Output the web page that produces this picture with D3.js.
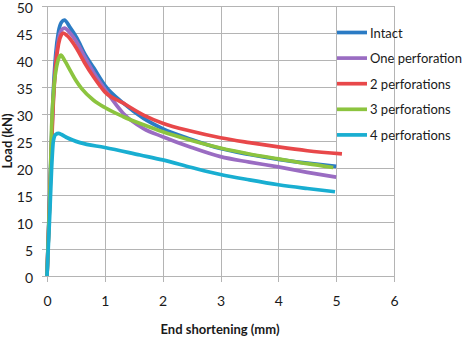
<!DOCTYPE html>
<html>
<head>
<meta charset="utf-8">
<script src="https://cdn.jsdelivr.net/npm/d3@7"></script>
<style>
  html, body { margin: 0; padding: 0; background: #fff; }
  svg { display: block; }
  text { font-family: Lato, "Open Sans", sans-serif; fill: #1a1a1a; }
</style>
</head>
<body>
<svg id="chart" width="464" height="338"></svg>
<script>
// ---- data ----
const seriesNames = ["Intact", "One perforation", "2 perforations", "3 perforations", "4 perforations"];
const seriesColors = ["#2b7bc4", "#9a6cc2", "#e8484a", "#8cc43f", "#19aed1"];

const intact = [[0,0],[0.05,16],[0.1,32],[0.15,41],[0.2,45.3],[0.25,47],[0.3,47.4],[0.4,46],[0.52,44],[0.65,41.2],[0.81,38.5],[1.0,35.3],[1.32,32],[1.67,29.2],[2,27.3],[2.5,25.3],[3,23.6],[3.5,22.5],[4,21.6],[4.5,20.9],[5,20.3]];
const onePerf = [[0,0],[0.05,15.5],[0.1,31],[0.15,39.5],[0.2,43.8],[0.25,45.5],[0.3,45.9],[0.4,45],[0.52,43.2],[0.65,40.6],[0.81,37.6],[1.0,34.6],[1.32,30.1],[1.67,27.3],[2,25.8],[2.5,23.8],[3,22.1],[3.5,21.1],[4,20.2],[4.5,19.2],[5,18.3]];
const twoPerf = [[0,0],[0.05,15],[0.1,30],[0.15,39],[0.2,43],[0.25,44.7],[0.28,45],[0.35,44.5],[0.52,42],[0.65,39.5],[0.81,36.8],[1.0,34.1],[1.32,32],[1.67,29.8],[2,28.3],[2.5,26.8],[3,25.6],[3.5,24.7],[4,23.9],[4.5,23.2],[5.1,22.6]];
const threePerf = [[0,0],[0.05,15],[0.08,27.6],[0.12,35],[0.17,39],[0.21,40.5],[0.24,40.9],[0.3,40],[0.41,37.9],[0.5,36.2],[0.6,34.7],[0.8,32.6],[1.0,31.2],[1.32,29.5],[1.67,28],[2,26.7],[2.5,25.1],[3,23.7],[3.5,22.6],[4,21.7],[4.5,20.8],[4.95,20.1]];
const fourPerf = [[0,0],[0.05,12],[0.08,20],[0.11,25],[0.15,26.2],[0.2,26.4],[0.25,26.2],[0.35,25.6],[0.57,24.7],[1.0,23.8],[1.61,22.4],[2,21.5],[2.5,20.1],[3,18.8],[3.5,17.8],[4,16.9],[4.5,16.2],[4.98,15.6]];
const seriesData = [intact, onePerf, twoPerf, threePerf, fourPerf];

const xTicks = [0, 1, 2, 3, 4, 5, 6];
const yTicks = [0, 5, 10, 15, 20, 25, 30, 35, 40, 45, 50];
const xTitle = "End shortening (mm)";
const yTitle = "Load (kN)";

// ---- layout ----
const svg = d3.select("#chart");
const mLeft = 47, mRight = 394, mTop = 6, mBottom = 276;
const x = d3.scaleLinear().domain([0, 6]).range([mLeft, mRight]);
const y = d3.scaleLinear().domain([0, 50]).range([mBottom, mTop]);
const gridColor = "#b4b4b4";

// gridlines
const g = svg.append("g");
g.selectAll("line.h").data(yTicks).join("line").attr("class", "h")
  .attr("x1", mLeft - 5).attr("x2", mRight)
  .attr("y1", d => Math.round(y(d)) + 0.5).attr("y2", d => Math.round(y(d)) + 0.5)
  .attr("stroke", gridColor).attr("stroke-width", 1);
g.selectAll("line.v").data(xTicks).join("line").attr("class", "v")
  .attr("x1", d => Math.round(x(d)) + 0.5).attr("x2", d => Math.round(x(d)) + 0.5)
  .attr("y1", mTop).attr("y2", mBottom + 6)
  .attr("stroke", gridColor).attr("stroke-width", 1);

// tick labels via axes
const yAxis = svg.append("g").attr("transform", `translate(${mLeft},0)`)
  .call(d3.axisLeft(y).tickValues(yTicks).tickFormat(d3.format("d")).tickSize(0).tickPadding(14));
yAxis.select(".domain").remove();
yAxis.selectAll("text").style("font-size", "14px").attr("fill", "#1a1a1a").attr("dy", "0.44em");

const xAxis = svg.append("g").attr("transform", `translate(0,${mBottom})`)
  .call(d3.axisBottom(x).tickValues(xTicks).tickFormat(d3.format("d")).tickSize(0).tickPadding(20));
xAxis.select(".domain").remove();
xAxis.selectAll("text").style("font-size", "14px").attr("fill", "#1a1a1a");

// axis titles
svg.append("text").attr("x", 220).attr("y", 334)
  .attr("text-anchor", "middle").style("font-size", "13px").style("font-weight", "bold")
  .text(xTitle);
svg.append("text").attr("transform", `translate(12,${(mTop + mBottom) / 2}) rotate(-90)`)
  .attr("text-anchor", "middle").style("font-size", "13px").style("font-weight", "bold")
  .text(yTitle);

// series lines
const line = d3.line().x(d => x(d[0])).y(d => y(d[1])).curve(d3.curveMonotoneX);
svg.append("g").selectAll("path").data(seriesData).join("path")
  .attr("d", line)
  .attr("fill", "none")
  .attr("stroke", (d, i) => seriesColors[i])
  .attr("stroke-width", 3.7)
  .attr("stroke-linejoin", "round");

// legend
svg.append("rect").attr("x", 337).attr("y", 8).attr("width", 127).attr("height", 137).attr("fill", "#fff");
svg.append("line").attr("x1", Math.round(x(6)) + 0.5).attr("x2", Math.round(x(6)) + 0.5)
  .attr("y1", mTop).attr("y2", mBottom + 6).attr("stroke", gridColor);
const leg = svg.append("g").selectAll("g").data(seriesNames).join("g")
  .attr("transform", (d, i) => `translate(337,${32.5 + i * 25.6})`);
leg.append("line").attr("x1", 0).attr("x2", 30).attr("y1", 0).attr("y2", 0)
  .attr("stroke", (d, i) => seriesColors[i]).attr("stroke-width", 3.7);
leg.append("text").attr("x", 33).attr("y", 5).style("font-size", "13px").text(d => d);
</script>
</body>
</html>
